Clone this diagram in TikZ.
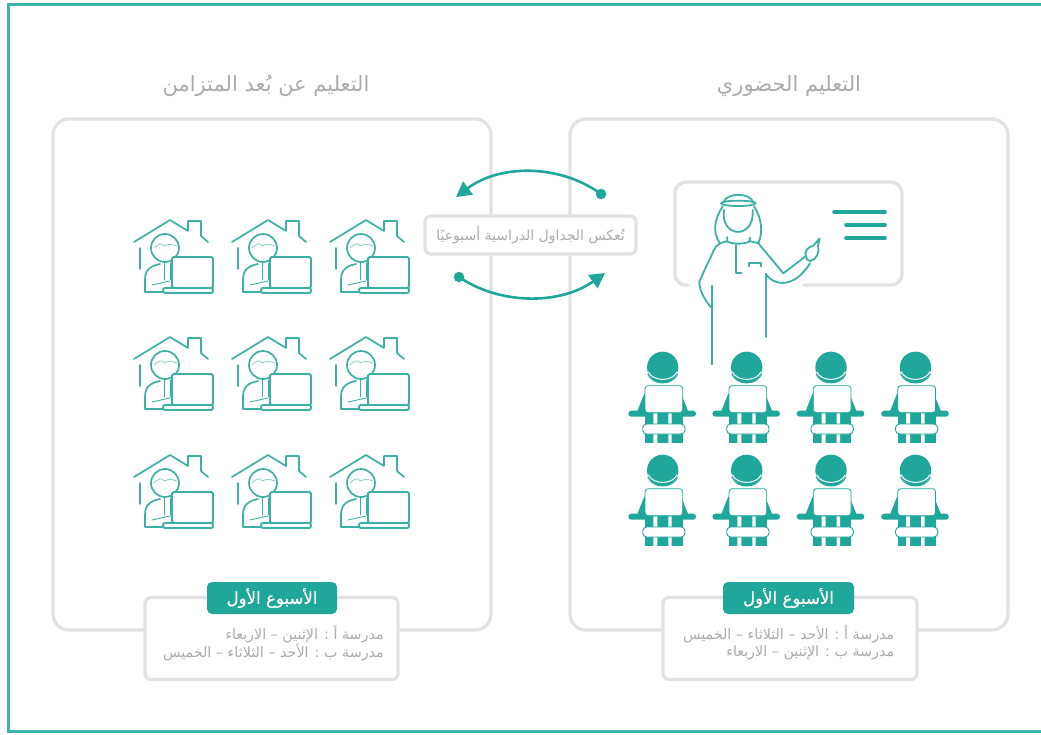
\documentclass[tikz,border=0pt]{standalone}
\usepackage{fontspec}
\usetikzlibrary{arrows.meta}
\setmainfont{DejaVu Sans}
\newfontfamily\arabicfont[Script=Arabic]{DejaVu Sans}
\newfontfamily\arabicb[Script=Arabic,FakeBold=0.6]{DejaVu Sans}
\TeXXeTstate=1
\definecolor{teal1}{HTML}{1FA79B}
\definecolor{line1}{HTML}{3DB0A5}
\definecolor{frame}{HTML}{3FB5AA}
\definecolor{panel}{HTML}{E2E2E2}
\definecolor{txt}{HTML}{ABABAB}
\newcommand{\ar}[1]{\arabicfont\beginR #1\endR}
\newcommand{\arb}[1]{\arabicb\beginR #1\endR}
\tikzset{
  panelbox/.style={draw=panel,line width=3.2pt,rounded corners=16pt,fill=white},
  smallbox/.style={draw=panel,line width=3.2pt,rounded corners=6pt,fill=white},
  greenbox/.style={fill=teal1,rounded corners=5pt},
  title/.style={text=txt,font=\fontsize{21}{25}\selectfont,inner sep=0pt},
  body/.style={text=txt,font=\fontsize{14.3}{17}\selectfont,inner sep=0pt,anchor=east},
  wk/.style={text=white,font=\fontsize{16.6}{20}\selectfont,inner sep=0pt},
  conn/.style={draw=teal1,line width=2.6pt},
  dotn/.style={circle,fill=teal1,inner sep=0pt,minimum size=10.5pt},
  ic/.style={draw=line1,line width=1.7pt,line cap=round,line join=round},
  tc/.style={draw=line1,line width=1.8pt,line cap=round,line join=round},
  homeuser/.pic={
    \draw[ic] (0,22)--(36,0)--(54,11)--(54,1)--(67,1)--(67,16)--(74,22);
    \draw[ic] (6,28)--(6,49);
    \draw[ic] (31,28) circle (14);
    \draw[ic,line width=.7pt,draw=line1!70] (20,28) .. controls (24,24) and (28,22) .. (30,26) .. controls (34,24) and (38,24) .. (43,26);
    \draw[ic] (11,68)--(11,60) .. controls (11,50) and (16,46) .. (26,44);
    \draw[ic,line width=.9pt] (18,65)--(36,61);
    \draw[ic,line width=.9pt] (30,43)--(30,60) (36,43)--(36,60);
    \draw[ic,line width=1.9pt,fill=white,rounded corners=1.5pt] (38,37) rectangle (79,68);
    \draw[ic,line width=1.9pt,fill=white,rounded corners=2pt] (29,68) rectangle (79,73);
    \draw[ic] (11,68)--(11,72)--(29,72);
  },
  student/.pic={
    \begin{scope}[x=.3333pt,y=-.3333pt]
      \fill[teal1] (0,-8) circle (47);
      \draw[white,line width=1pt] (-43,5) .. controls (-30,36) and (30,36) .. (43,5);
      \draw[teal1,line width=.9pt] (-45,12) .. controls (-30,48) and (30,48) .. (45,12);
      \fill[teal1,rounded corners=1pt] (-78,128) -- (-55,70) -- (55,70) -- (78,128) -- cycle;
      \fill[teal1,rounded corners=3pt] (-103,122) rectangle (100,140);
      \fill[teal1] (-53,125) rectangle (60,220);
      \fill[white] (-28,130) rectangle (-16,220) (17,130) rectangle (27,220);
      \draw[teal1,line width=.8pt,fill=white,rounded corners=3pt] (-53,47) rectangle (60,128);
      \draw[teal1,line width=.9pt,fill=white,rounded corners=4pt] (-60,162) rectangle (67,192);
    \end{scope}
  }
}
\begin{document}
\begin{tikzpicture}[x=1pt,y=-1pt]
\useasboundingbox (0,0) rectangle (1041,734);
\fill[white] (0,0) rectangle (1041,734);
\draw[frame,line width=3pt] (1041,4) -- (8,4) -- (8,731) -- (1041,731);

% panels
\draw[panelbox] (53,119) rectangle (491,630);
\draw[panelbox] (570,119) rectangle (1008,630);

% titles
\node[title] (t1) at (266,86) {\ar{التعليم عن بُعد المتزامن}};
\node[title] (t2) at (789,86) {\ar{التعليم الحضوري}};

% centre arrows and label
\node[dotn] (d1) at (601,194) {};
\coordinate (e1) at (456,197);
\node[dotn] (d2) at (459,277) {};
\coordinate (e2) at (605,273);
\draw[conn,-{Triangle[length=15pt,width=16pt]}] (d1.center) .. controls (560,164) and (500,164) .. (e1);
\draw[conn,-{Triangle[length=15pt,width=16pt]}] (d2.center) .. controls (500,305) and (560,305) .. (e2);
\node[smallbox,minimum width=211pt,minimum height=38pt,inner sep=0pt] (c) at (530.5,235) {};
\node[text=txt,font=\fontsize{14}{17}\selectfont,inner sep=0pt] (ct) at (530.5,235) {\ar{تُعكس الجداول الدراسية أسبوعيًا}};

% remote learners
\foreach \r/\yy in {a/220,b/337,c/455}
  \foreach \c/\xx in {a/134,b/232,c/330}
    \pic (hu\r\c) at (\xx,\yy) {homeuser};

% board
\draw[draw=panel,line width=3.4pt,line cap=round,rounded corners=11pt] (688,285) -- (675,285) -- (675,182) -- (902,182) -- (902,285) -- (804,285);
\draw[teal1,line width=3.6pt,line cap=round] (834,212)--(885,212) (846,225)--(885,225) (846,238)--(885,238);

% teacher
\begin{scope}[shift={(670,175)},x=.3333pt,y=-.3333pt]
  \draw[tc] (160,82) .. controls (170,52) and (240,52) .. (250,82);
  \draw[tc] (205,85) ellipse (52 and 8);
  \draw[tc] (162,105) .. controls (150,190) and (255,195) .. (248,105);
  \draw[tc] (158,94) .. controls (135,130) and (125,170) .. (150,205);
  \draw[tc] (252,94) .. controls (275,130) and (280,170) .. (265,205);
  \draw[tc] (172,186) -- (172,200) .. controls (190,208) and (220,208) .. (238,200) -- (240,188);
  \draw[tc] (172,198) -- (150,205) .. controls (130,215) and (128,240) .. (115,260) -- (88,320) .. controls (88,350) and (110,385) .. (127,400);
  \draw[tc] (238,198) -- (265,205) -- (340,295) -- (408,243);
  \draw[tc] (288,298) .. controls (310,330) and (370,345) .. (420,265);
  \draw[tc] (408,243) .. controls (402,232) and (412,215) .. (430,212) -- (449,190) -- (444,212) .. controls (450,230) and (440,255) .. (420,258) .. controls (412,258) and (408,250) .. (408,243);
  \draw[tc] (127,332) -- (127,568);
  \draw[tc] (287,296) -- (287,486);
  \draw[tc] (199,210) -- (199,295) -- (214,295);
  \draw[tc] (238,274) -- (238,265) -- (272,265) -- (272,274);
\end{scope}

% students
\foreach \r/\yy in {a/370,b/473}
  \foreach \c/\xx in {a/662.7,b/746.7,c/831,d/915.5}
    \pic (st\r\c) at (\xx,\yy) {student};

% week boxes
\node[smallbox,minimum width=253pt,minimum height=82pt,inner sep=0pt] (b1) at (271.5,638.5) {};
\node[smallbox,minimum width=254pt,minimum height=82pt,inner sep=0pt] (b2) at (790,638.5) {};
\node[greenbox,minimum width=130pt,minimum height=32pt,inner sep=0pt] (g1) at (272,598) {};
\node[greenbox,minimum width=131pt,minimum height=32pt,inner sep=0pt] (g2) at (788.5,598) {};
\node[wk] (w1) at (272,598) {\arb{الأسبوع الأول}};
\node[wk] (w2) at (788.5,598) {\arb{الأسبوع الأول}};
\node[body] (l1) at (384,634.5) {\ar{مدرسة أ : الإثنين – الاربعاء}};
\node[body] (l2) at (384,652.5) {\ar{مدرسة ب : الأحد – الثلاثاء – الخميس}};
\node[body] (r1) at (894.5,634.5) {\ar{مدرسة أ : الأحد – الثلاثاء – الخميس}};
\node[body] (r2) at (894.5,652.5) {\ar{مدرسة ب : الإثنين – الاربعاء}};
\end{tikzpicture}
\end{document}
